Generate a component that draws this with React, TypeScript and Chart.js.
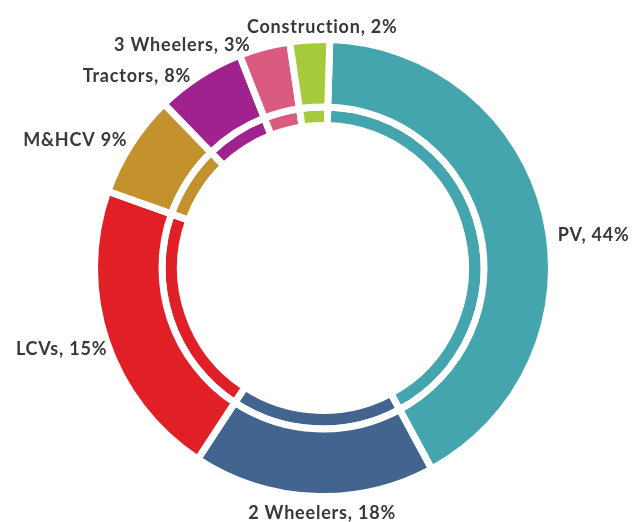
import React, { useEffect, useRef } from "react";
import { Chart, registerables } from "chart.js";

Chart.register(...registerables);

const categories = ["PV", "2 Wheelers", "LCVs", "M&HCV", "Tractors", "3 Wheelers", "Construction"];
const labelTexts = ["PV, 44%", "2 Wheelers, 18%", "LCVs, 15%", "M&HCV 9%", "Tractors, 8%", "3 Wheelers, 3%", "Construction, 2%"];
// arc shares as drawn in the picture (outer ring and inner ring)
const outerShares = [41.6, 17.1, 21.2, 7.3, 6.3, 3.6, 2.8];
const innerShares = [41.6, 17.1, 21.2, 7.3, 6.3, 3.6, 2.8];
const colors = ["#45A5AE", "#43648F", "#E11F26", "#C4922D", "#A0228E", "#D95C80", "#A6CB3A"];

// label nudges (layout only)
const labelNudge: [number, number][] = [
  [6, 27],
  [9, 16],
  [7, 12],
  [2, 5],
  [-5, 12],
  [-12, 10],
  [13, 0],
];

const labelPlugin = {
  id: "outerLabels",
  afterDraw(chart: any) {
    const meta = chart.getDatasetMeta(0);
    const ctx = chart.ctx;
    ctx.save();
    ctx.font = "bold 18px Lato, 'Open Sans', sans-serif";
    try {
      (ctx as any).letterSpacing = "0.8px";
    } catch (e) {}
    ctx.fillStyle = "#383838";
    ctx.textBaseline = "alphabetic";
    meta.data.forEach((arc: any, i: number) => {
      const mid = (arc.startAngle + arc.endAngle) / 2;
      const r = arc.outerRadius - 3.5 + 10;
      const c = Math.cos(mid);
      const s = Math.sin(mid);
      let x = arc.x + r * c;
      let y = arc.y + r * s;
      if (Math.abs(c) < 0.15) ctx.textAlign = "center";
      else if (c > 0) ctx.textAlign = "left";
      else ctx.textAlign = "right";
      x += labelNudge[i][0];
      y += labelNudge[i][1];
      ctx.fillText(labelTexts[i], x, y);
    });
    ctx.restore();
  },
};

export default function App() {
  const ref = useRef<HTMLCanvasElement | null>(null);
  useEffect(() => {
    if (!ref.current) return;
    const chart = new Chart(ref.current, {
      type: "doughnut",
      data: {
        labels: categories,
        datasets: [
          {
            data: outerShares,
            backgroundColor: colors,
            borderColor: "#ffffff",
            borderWidth: 7,
            weight: 67.5,
            hoverOffset: 0,
          } as any,
          {
            data: innerShares,
            backgroundColor: colors,
            borderColor: "#ffffff",
            borderWidth: 7,
            weight: 18.5,
            hoverOffset: 0,
          } as any,
        ],
      },
      options: {
        animation: false,
        responsive: false,
        rotation: 1.7,
        radius: 228.5,
        cutout: "62.36%",
        layout: { padding: { left: 13, top: 14, right: 0, bottom: 0 } },
        plugins: {
          legend: { display: false },
          tooltip: { enabled: false },
        },
        events: [],
      } as any,
      plugins: [labelPlugin],
    });
    return () => chart.destroy();
  }, []);
  return (
    <div style={{ position: "absolute", left: 0, top: 0, width: 633, height: 522, background: "#fff" }}>
      <canvas ref={ref} width={633} height={522} style={{ width: 633, height: 522 }} />
    </div>
  );
}
